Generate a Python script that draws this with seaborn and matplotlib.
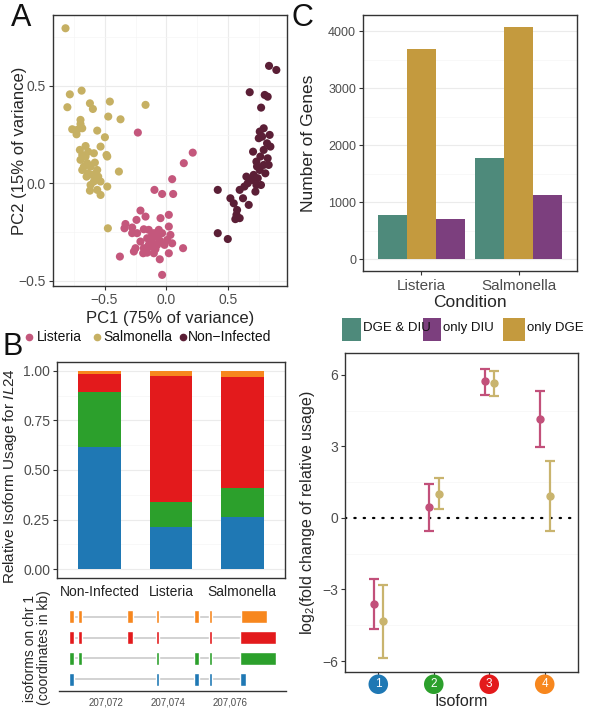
import numpy as np
import pandas as pd
import seaborn as sns
import matplotlib.pyplot as plt
from matplotlib.lines import Line2D
from matplotlib.patches import Rectangle
from matplotlib.ticker import FuncFormatter

# ---------------- data ----------------
# Panel A: PCA scores
listeria_pc1 = [-0.231, 0.212, 0.14, 0.046, -0.097, -0.035, 0.054, -0.21, -0.169, -0.048, 0.019, -0.242,
                -0.331, -0.339, -0.277, -0.183, 0.019, -0.237, -0.143, -0.102, -0.075, -0.035, -0.156,
                -0.116, -0.054, -0.21, -0.25, -0.183, -0.129, -0.075, -0.016, 0.032, 0.046, 0.134, -0.263,
                -0.188, -0.102, 0.019, -0.376, -0.054, -0.035, -0.156, -0.089, -0.116, -0.277, 0.005,
                -0.143, -0.062]
listeria_pc2 = [0.26, 0.157, 0.103, 0.021, -0.034, -0.055, -0.055, -0.14, -0.171, -0.179, -0.162, -0.188,
                -0.209, -0.231, -0.227, -0.236, -0.222, -0.256, -0.239, -0.256, -0.274, -0.256, -0.282,
                -0.299, -0.294, -0.299, -0.333, -0.333, -0.325, -0.316, -0.316, -0.265, -0.308, -0.333,
                -0.35, -0.359, -0.359, -0.359, -0.376, -0.39, -0.47, -0.356, -0.338, -0.265, -0.256,
                -0.291, -0.316, -0.239]
salmonella_pc1 = [-0.815, -0.78, -0.8, -0.685, -0.618, -0.594, -0.457, -0.169, -0.47, -0.371, -0.694, -0.761,
                  -0.72, -0.68, -0.694, -0.559, -0.497, -0.726, -0.532, -0.586, -0.484, -0.699, -0.68, -0.653,
                  -0.694, -0.64, -0.613, -0.578, -0.559, -0.634, -0.68, -0.6, -0.551, -0.532, -0.478, -0.384,
                  -0.586, -0.613, -0.559, -0.532, -0.618, -0.478, -0.473, -0.653, -0.632, -0.667, -0.57, -0.645]
salmonella_pc2 = [0.795, 0.456, 0.39, 0.475, 0.41, 0.381, 0.419, 0.402, 0.342, 0.328, 0.325, 0.277,
                  0.274, 0.282, 0.304, 0.27, 0.236, 0.251, 0.188, 0.154, 0.145, 0.171, 0.145, 0.137,
                  0.12, 0.103, 0.085, 0.106, 0.068, 0.051, 0.068, 0.043, 0.034, 0.009, -0.017, 0.06,
                  0.009, -0.009, -0.034, -0.06, -0.038, 0.137, -0.231, 0.191, 0.162, 0.085, 0.051, 0.034]
noninf_pc1 = [0.828, 0.887, 0.672, 0.793, 0.817, 0.764, 0.785, 0.753, 0.833, 0.745, 0.812, 0.699, 0.839,
              0.785, 0.758, 0.817, 0.726, 0.785, 0.825, 0.753, 0.704, 0.798, 0.645, 0.677, 0.737, 0.763,
              0.591, 0.656, 0.629, 0.718, 0.726, 0.414, 0.516, 0.543, 0.618, 0.664, 0.57, 0.565, 0.591,
              0.556, 0.414, 0.495, 0.772, 0.731, 0.691]
noninf_pc2 = [0.602, 0.581, 0.467, 0.453, 0.444, 0.388, 0.282, 0.265, 0.248, 0.231, 0.205, 0.162, 0.188,
              0.171, 0.137, 0.128, 0.111, 0.094, 0.094, 0.068, 0.043, 0.051, 0.034, 0.017, 0.026, -0.009,
              -0.034, 0.0, -0.017, -0.043, -0.009, -0.034, -0.077, -0.103, -0.077, -0.111, -0.137, -0.162,
              -0.179, -0.184, -0.256, -0.286, 0.239, 0.086, 0.017]

# Panel B: relative isoform usage of IL24 (isoforms 1..4)
usage_conditions = ['Non-Infected', 'Listeria', 'Salmonella']
usage_iso1 = [0.617, 0.213, 0.263]
usage_iso2 = [0.279, 0.127, 0.144]
usage_iso3 = [0.089, 0.635, 0.561]
usage_iso4 = [0.015, 0.025, 0.032]

# Isoform structures (exon start/end, kb on chr 1)
iso1_starts = [207070.78, 207073.62, 207074.84, 207075.33, 207076.32]
iso1_ends = [207070.94, 207073.70, 207075.00, 207075.43, 207076.51]
iso2_starts = [207070.78, 207071.06, 207073.62, 207074.84, 207075.33, 207076.32]
iso2_ends = [207070.94, 207071.21, 207073.70, 207075.00, 207075.43, 207077.49]
iso3_starts = [207070.78, 207071.06, 207072.66, 207073.62, 207075.33, 207076.32]
iso3_ends = [207070.94, 207071.21, 207072.85, 207073.70, 207075.43, 207077.49]
iso4_starts = [207070.78, 207071.06, 207072.66, 207073.62, 207074.84, 207075.33, 207076.35]
iso4_ends = [207070.94, 207071.21, 207072.85, 207073.70, 207075.00, 207075.43, 207077.22]
coord_ticks = [207072, 207074, 207076]

# Panel C: number of genes
gene_conditions = ['Listeria', 'Salmonella']
genes_dge_diu = [780, 1770]
genes_only_dge = [3680, 4080]
genes_only_diu = [700, 1120]

# Panel D: log2 fold change of relative usage per isoform
isoform_labels = ['1', '2', '3', '4']
lfc_listeria = [-3.63, 0.45, 5.72, 4.14]
lfc_listeria_lo = [-4.67, -0.57, 5.16, 2.96]
lfc_listeria_hi = [-2.57, 1.42, 6.26, 5.33]
lfc_salmonella = [-4.34, 1.0, 5.65, 0.93]
lfc_salmonella_lo = [-5.89, 0.36, 5.12, -0.53]
lfc_salmonella_hi = [-2.83, 1.66, 6.16, 2.40]

# ---------------- style ----------------
sns.set_style('white')
plt.rcParams['font.family'] = ['Liberation Sans', 'DejaVu Sans']
plt.rcParams['mathtext.fontset'] = 'custom'
plt.rcParams['mathtext.rm'] = 'Liberation Sans'
plt.rcParams['mathtext.it'] = 'Liberation Sans:italic'

cond_colors = {'Listeria': '#c4577c', 'Salmonella': '#c6b063', 'Non-Infected': '#5b1f36'}
iso_colors = ['#1f78b4', '#2ca02c', '#e31a1c', '#f7871e']
cat_colors = {'DGE & DIU': '#4e8a7b', 'only DGE': '#c49a3e', 'only DIU': '#7c3f7e'}
W, H = 592, 709
fig = plt.figure(figsize=(W / 100, H / 100), dpi=100)


def px_axes(l, t, r, b):
    return fig.add_axes([l / W, 1 - b / H, (r - l) / W, (b - t) / H])


def ggbox(ax, size=10):
    for sp in ax.spines.values():
        sp.set_visible(True)
        sp.set_color('#333333')
        sp.set_linewidth(1.0)
    ax.tick_params(which='major', direction='out', length=3, width=0.8, color='#333333',
                   labelcolor='#4d4d4d', labelsize=size, pad=2, bottom=True, left=True)
    ax.tick_params(which='minor', length=0)
    ax.grid(True, which='major', color='#ebebeb', lw=0.8)
    ax.grid(True, which='minor', color='#f5f5f5', lw=0.5)
    ax.set_axisbelow(True)


# ---------------- panel A ----------------
ax_a = px_axes(53, 15, 287, 286)
df_a = pd.DataFrame({
    'PC1': listeria_pc1 + salmonella_pc1 + noninf_pc1,
    'PC2': listeria_pc2 + salmonella_pc2 + noninf_pc2,
    'Condition': ['Listeria'] * len(listeria_pc1) + ['Salmonella'] * len(salmonella_pc1)
                 + ['Non-Infected'] * len(noninf_pc1),
})
sns.scatterplot(data=df_a, x='PC1', y='PC2', hue='Condition', palette=cond_colors, s=34,
                linewidth=0, ax=ax_a, legend=False)
ax_a.set_xlim(-0.916, 0.973)
ax_a.set_ylim(-0.527, 0.863)
ax_a.set_xticks([-0.5, 0.0, 0.5])
ax_a.set_yticks([-0.5, 0.0, 0.5])
ax_a.set_xticks([-0.75, -0.25, 0.25, 0.75], minor=True)
ax_a.set_yticks([-0.25, 0.25, 0.75], minor=True)
ggbox(ax_a)
ax_a.set_xlabel('PC1 (75% of variance)', fontsize=12, labelpad=3)
ax_a.set_ylabel('PC2 (15% of variance)', fontsize=12)
ax_a.yaxis.set_label_coords(-0.111, 0.498)

# legend A
for cx, tx, name in [(29, 37, 'Listeria'), (97, 103, 'Salmonella'), (183, 188, 'Non\u2212Infected')]:
    key = 'Non-Infected' if name.startswith('Non') else name
    fig.add_artist(Line2D([cx / W], [1 - 337 / H], marker='o', ms=4.5, color=cond_colors[key],
                          transform=fig.transFigure, lw=0))
    fig.text(tx / W, 1 - 337 / H, name, fontsize=10, va='center', ha='left', color='#111111')

# ---------------- panel C ----------------
ax_c = px_axes(363, 15, 577, 271)
df_c = pd.DataFrame({
    'Condition': gene_conditions * 3,
    'Category': ['DGE & DIU'] * 2 + ['only DGE'] * 2 + ['only DIU'] * 2,
    'Genes': genes_dge_diu + genes_only_dge + genes_only_diu,
})
sns.barplot(data=df_c, x='Condition', y='Genes', hue='Category',
            hue_order=['DGE & DIU', 'only DGE', 'only DIU'], palette=cat_colors,
            width=0.9, saturation=1, linewidth=0, ax=ax_c, legend=False)
ax_c.set_xlim(-0.6, 1.6)
ax_c.set_ylim(-204, 4284)
ax_c.set_yticks([0, 1000, 2000, 3000, 4000])
ax_c.set_yticks([500, 1500, 2500, 3500], minor=True)
ggbox(ax_c, size=9)
ax_c.tick_params(axis='x', labelsize=11, pad=3)
ax_c.xaxis.grid(False)
ax_c.set_xlabel('Condition', fontsize=12.5, labelpad=1)
ax_c.set_ylabel('Number of Genes', fontsize=12.5)
ax_c.yaxis.set_label_coords(-0.22, 0.5)

# legend C
for bx0, bx1, tx, name in [(342, 361, 363, 'DGE & DIU'), (423, 441, 443, 'only DIU'),
                           (503, 525, 527, 'only DGE')]:
    fig.add_artist(Rectangle((bx0 / W, 1 - 341 / H), (bx1 - bx0) / W, 23 / H,
                             transform=fig.transFigure, fc=cat_colors[name], ec='none'))
    fig.text(tx / W, 1 - 328 / H, name, fontsize=9.5, va='center', ha='left', color='#111111')

# ---------------- panel B ----------------
ax_b = px_axes(57, 362, 285, 578)
usage = np.array([usage_iso1, usage_iso2, usage_iso3, usage_iso4])
tops = np.cumsum(usage, axis=0)
for k in [3, 2, 1, 0]:
    df_b = pd.DataFrame({'Condition': usage_conditions, 'top': tops[k]})
    sns.barplot(data=df_b, x='Condition', y='top', order=usage_conditions, color=iso_colors[k],
                width=0.6, saturation=1, linewidth=0, ax=ax_b)
ax_b.set_xlim(-0.6, 2.6)
ax_b.set_ylim(-0.045, 1.045)
ax_b.set_yticks([0, 0.25, 0.5, 0.75, 1.0])
ax_b.set_yticks([0.125, 0.375, 0.625, 0.875], minor=True)
ax_b.yaxis.set_major_formatter(FuncFormatter(lambda v, p: f'{v:.2f}'))
ggbox(ax_b)
ax_b.xaxis.grid(False)
ax_b.tick_params(axis='x', length=0, pad=5)
for lbl in ax_b.get_xticklabels():
    lbl.set_fontfamily(['Liberation Sans Narrow', 'Liberation Sans'])
    lbl.set_fontsize(10)
    lbl.set_color('#222222')
ax_b.set_xlabel('')
ax_b.set_ylabel(r'Relative Isoform Usage for $\mathit{IL24}$', fontsize=11)
ax_b.yaxis.set_label_coords(-0.165, 0.47)

# isoform structures
ax_s = px_axes(59, 605, 286, 691)
iso_starts = [iso1_starts, iso2_starts, iso3_starts, iso4_starts]
iso_ends = [iso1_ends, iso2_ends, iso3_ends, iso4_ends]
for k in range(4):
    row = k + 1
    ax_s.hlines(row, min(iso_starts[k]), max(iso_ends[k]), color='#cfcfcf', lw=1.3, zorder=1)
    ax_s.broken_barh([(s, e - s) for s, e in zip(iso_starts[k], iso_ends[k])], (row - 0.32, 0.64),
                     facecolors=iso_colors[k], zorder=2)
ax_s.set_xlim(207070.46, 207077.82)
ax_s.set_ylim(0.45, 4.55)
ax_s.set_xticks(coord_ticks)
ax_s.xaxis.set_major_formatter(FuncFormatter(lambda v, p: f'{int(round(v)):,}'))
ax_s.set_yticks([])
for side in ['top', 'right', 'left']:
    ax_s.spines[side].set_visible(False)
ax_s.spines['bottom'].set_color('#333333')
ax_s.spines['bottom'].set_linewidth(1.0)
ax_s.tick_params(axis='x', direction='out', length=3, width=0.8, color='#333333',
                 labelcolor='#4d4d4d', labelsize=7, pad=2)
ax_s.set_ylabel('isoforms on chr 1\n(coordinates in kb)', fontsize=10, labelpad=6, linespacing=1.0)

# ---------------- panel D ----------------
ax_d = px_axes(345, 353, 578, 672)
xpos = np.arange(len(isoform_labels))
ax_d.axhline(0, color='black', lw=1.6, ls=(0, (0.6, 3.6)), dash_capstyle='round', zorder=1)
for vals, lo, hi, shift, col in [(lfc_listeria, lfc_listeria_lo, lfc_listeria_hi, -0.08, '#c2507a'),
                                 (lfc_salmonella, lfc_salmonella_lo, lfc_salmonella_hi, 0.09, '#c9b46e')]:
    vals = np.array(vals)
    yerr = [vals - np.array(lo), np.array(hi) - vals]
    ax_d.errorbar(xpos + shift, vals, yerr=yerr, fmt='o', ms=5, color=col, ecolor=col,
                  elinewidth=1.6, capsize=3.5, capthick=1.6, zorder=3)
ax_d.set_xlim(-0.6, 3.6)
ax_d.set_ylim(-6.46, 6.91)
ax_d.set_yticks([-6, -3, 0, 3, 6])
ax_d.set_yticks([-4.5, -1.5, 1.5, 4.5], minor=True)
ax_d.set_xticks(xpos)
ax_d.set_xticklabels(isoform_labels)
ggbox(ax_d)
ax_d.xaxis.grid(False)
ax_d.yaxis.grid(False, which='major')
ax_d.tick_params(axis='x', labelsize=8.5, pad=1.5)
for lbl, col in zip(ax_d.get_xticklabels(), iso_colors):
    lbl.set_color('white')
    lbl.set_bbox(dict(boxstyle='circle,pad=0.32', fc=col, ec='none'))
ax_d.set_xlabel('Isoform', fontsize=11.5)
ax_d.xaxis.set_label_coords(0.5, -0.068)
ax_d.set_ylabel(r'log$_2$(fold change of relative usage)', fontsize=11.5)
ax_d.yaxis.set_label_coords(-0.12, 0.5)

# panel letters
for x, y, s in [(21, 18, 'A'), (302, 18, 'C'), (13, 347, 'B')]:
    fig.text(x / W, 1 - y / H, s, fontsize=22, ha='center', va='center', color='#111111')

fig.savefig('out.png', dpi=100)
